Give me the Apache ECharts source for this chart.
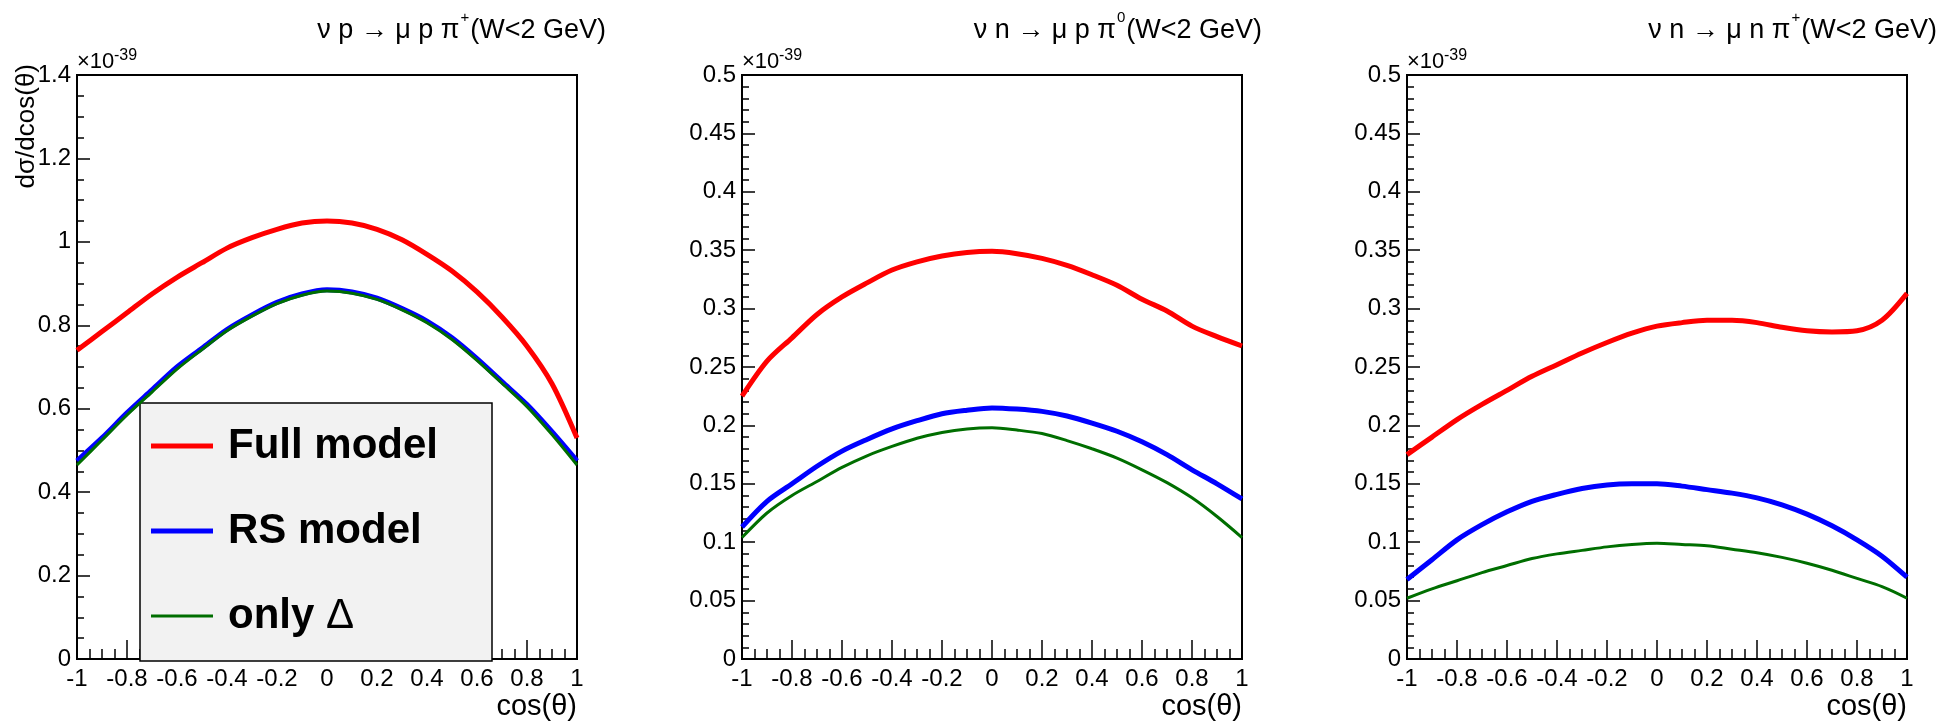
<!DOCTYPE html>
<html>
<head>
<meta charset="utf-8">
<title>Pion production angular distributions</title>
<script src="https://cdn.jsdelivr.net/npm/echarts@6/dist/echarts.min.js"></script>
<style>
  html, body { margin: 0; padding: 0; background: #fff; }
  #chart { width: 1954px; height: 728px; }
</style>
</head>
<body>
<div id="chart"></div>
<script>
// cos(theta) sampling points
const cosTheta = [-1, -0.9, -0.8, -0.7, -0.6, -0.5, -0.4, -0.3, -0.2, -0.1, 0,
                  0.1, 0.2, 0.3, 0.4, 0.5, 0.6, 0.7, 0.8, 0.9, 1];

// nu p -> mu p pi+  (units of 1e-39)
const fullP  = [0.74, 0.785, 0.83, 0.875, 0.915, 0.95, 0.985, 1.01, 1.03, 1.045, 1.05,
                1.045, 1.03, 1.005, 0.97, 0.93, 0.88, 0.82, 0.75, 0.66, 0.53];
const rsP    = [0.475, 0.53, 0.59, 0.645, 0.70, 0.745, 0.79, 0.825, 0.855, 0.875, 0.885,
                0.88, 0.865, 0.84, 0.81, 0.77, 0.72, 0.665, 0.61, 0.545, 0.475];
const deltaP = [0.465, 0.525, 0.585, 0.64, 0.695, 0.742, 0.787, 0.822, 0.852, 0.872, 0.882,
                0.877, 0.862, 0.837, 0.806, 0.766, 0.716, 0.661, 0.605, 0.538, 0.465];

// nu n -> mu p pi0
const fullN0  = [0.225, 0.255, 0.275, 0.295, 0.31, 0.322, 0.333, 0.34, 0.345, 0.348, 0.349,
                 0.347, 0.343, 0.337, 0.329, 0.32, 0.308, 0.298, 0.285, 0.276, 0.268];
const rsN0    = [0.113, 0.135, 0.15, 0.165, 0.178, 0.188, 0.197, 0.204, 0.21, 0.213, 0.215,
                 0.214, 0.212, 0.208, 0.202, 0.195, 0.186, 0.175, 0.162, 0.15, 0.137];
const deltaN0 = [0.104, 0.125, 0.14, 0.152, 0.164, 0.174, 0.182, 0.189, 0.194, 0.197, 0.198,
                 0.196, 0.193, 0.187, 0.18, 0.172, 0.162, 0.151, 0.138, 0.122, 0.104];

// nu n -> mu n pi+
const fullNp  = [0.175, 0.19, 0.205, 0.218, 0.23, 0.242, 0.252, 0.262, 0.271, 0.279, 0.285,
                 0.288, 0.29, 0.29, 0.288, 0.284, 0.281, 0.28, 0.281, 0.29, 0.313];
const rsNp    = [0.068, 0.085, 0.102, 0.115, 0.126, 0.135, 0.141, 0.146, 0.149, 0.15, 0.15,
                 0.148, 0.145, 0.142, 0.138, 0.132, 0.124, 0.114, 0.102, 0.088, 0.07];
const deltaNp = [0.052, 0.06, 0.067, 0.074, 0.08, 0.086, 0.09, 0.093, 0.096, 0.098, 0.099,
                 0.098, 0.097, 0.094, 0.091, 0.087, 0.082, 0.076, 0.069, 0.062, 0.052];

const seriesNames = ['Full model', 'RS model', 'only Δ'];
const panelTitles = [
  ['ν p → μ p π', '+', '(W<2 GeV)'],
  ['ν n → μ p π', '0', '(W<2 GeV)'],
  ['ν n → μ n π', '+', '(W<2 GeV)']
];
const yMax = [1.4, 0.5, 0.5];
const yStep = [0.2, 0.05, 0.05];
const yMinorSplit = [4, 5, 5];

const FONT = 'Liberation Sans';
const colors = ['#ff0000', '#0000ff', '#006e00'];
const widths = [5, 5, 3];

const gridLefts = [77, 742, 1407];
const gridTop = 75, gridW = 500, gridH = 584;
const titleRights = [1343, 687, 12];

const panels = [[fullP, rsP, deltaP], [fullN0, rsN0, deltaN0], [fullNp, rsNp, deltaNp]];

const grids = [], xAxes = [], yAxes = [], series = [], titles = [], graphics = [];

panels.forEach((curves, p) => {
  grids.push({
    left: gridLefts[p], top: gridTop, width: gridW, height: gridH,
    show: true, borderColor: '#000', borderWidth: 2, backgroundColor: 'transparent'
  });
  xAxes.push({
    type: 'value', gridIndex: p, min: -1, max: 1, interval: 0.2,
    axisLine: { show: true, onZero: false, lineStyle: { color: '#000', width: 2 } },
    axisTick: { show: true, inside: true, length: 19, lineStyle: { color: '#000', width: 1.5 } },
    minorTick: { show: true, splitNumber: 4, length: 10, lineStyle: { color: '#000', width: 1.5 } },
    splitLine: { show: false },
    axisLabel: { color: '#000', fontFamily: FONT, fontSize: 24, margin: 8, showMinLabel: true, showMaxLabel: true },
    name: 'cos(θ)', nameLocation: 'end', nameGap: 0,
    nameTextStyle: { color: '#000', fontFamily: FONT, fontSize: 29, align: 'right', verticalAlign: 'top', padding: [33, 0, 0, 0] }
  });
  yAxes.push({
    type: 'value', gridIndex: p, min: 0, max: yMax[p], interval: yStep[p],
    axisLine: { show: true, onZero: false, lineStyle: { color: '#000', width: 2 } },
    axisTick: { show: true, inside: true, length: 13, lineStyle: { color: '#000', width: 1.5 } },
    minorTick: { show: true, splitNumber: yMinorSplit[p], length: 7, lineStyle: { color: '#000', width: 1.5 } },
    splitLine: { show: false },
    axisLabel: { color: '#000', fontFamily: FONT, fontSize: 24, margin: 6, showMinLabel: true, showMaxLabel: true }
  });
  curves.forEach((vals, k) => {
    series.push({
      type: 'line', name: seriesNames[k], xAxisIndex: p, yAxisIndex: p,
      data: cosTheta.map((x, i) => [x, vals[i]]),
      symbol: 'none', smooth: 0.3, silent: true, animation: false,
      lineStyle: { color: colors[k], width: widths[k] },
      itemStyle: { color: colors[k] },
      z: 2 + k
    });
  });
  const t = panelTitles[p];
  titles.push({
    text: '{n|' + t[0] + '}{s|' + t[1] + '}{n|' + t[2] + '}',
    right: titleRights[p], top: 5,
    textStyle: {
      fontFamily: FONT, fontWeight: 'normal', color: '#000', fontSize: 27,
      rich: {
        n: { fontFamily: FONT, fontSize: 27, color: '#000', lineHeight: 34, verticalAlign: 'bottom' },
        s: { fontFamily: FONT, fontSize: 15, color: '#000', lineHeight: 34, verticalAlign: 'top', padding: [0, 1, 0, 1] }
      }
    }
  });
  // axis exponent label
  graphics.push({
    type: 'text', x: gridLefts[p], y: 73,
    style: { text: '×10', fontFamily: FONT, fontSize: 22, fill: '#000', align: 'left', verticalAlign: 'bottom' }
  });
  graphics.push({
    type: 'text', x: gridLefts[p] + 37, y: 64,
    style: { text: '-39', fontFamily: FONT, fontSize: 16, fill: '#000', align: 'left', verticalAlign: 'bottom' }
  });
});

// y axis title of the first pad
graphics.push({
  type: 'text', x: 27, y: 64, rotation: Math.PI / 2,
  style: { text: 'dσ/dcos(θ)', fontFamily: FONT, fontSize: 26, fill: '#000', align: 'right', verticalAlign: 'middle' }
});

const option = {
  animation: false,
  backgroundColor: '#fff',
  title: titles,
  grid: grids,
  xAxis: xAxes,
  yAxis: yAxes,
  series: series,
  graphic: graphics,
  legend: {
    left: 140, top: 403, orient: 'vertical', selectedMode: false,
    backgroundColor: '#f2f2f2', borderColor: '#000', borderWidth: 1.5, borderRadius: 0,
    padding: [22, 54, 24, 11],
    itemWidth: 62, itemHeight: 42, itemGap: 43,
    data: [
      { name: 'Full model', icon: 'path://M0,0h62v5h-62z' },
      { name: 'RS model', icon: 'path://M0,0h62v5h-62z' },
      { name: 'only Δ', icon: 'path://M0,0h62v3h-62z' }
    ],
    formatter: function (name) {
      if (name === 'only Δ') return '{b|only }{d|Δ}';
      return '{b|' + name + '}';
    },
    textStyle: {
      color: '#000', fontFamily: FONT, fontSize: 42, fontWeight: 'bold', padding: [0, 0, 0, 10],
      rich: {
        b: { fontFamily: FONT, fontSize: 42, fontWeight: 'bold', color: '#000', lineHeight: 42 },
        d: { fontFamily: FONT, fontSize: 42, fontWeight: 'normal', color: '#000', lineHeight: 42 }
      }
    }
  }
};

const chart = echarts.init(document.getElementById('chart'), null, { renderer: 'canvas' });
chart.setOption(option);
</script>
</body>
</html>
